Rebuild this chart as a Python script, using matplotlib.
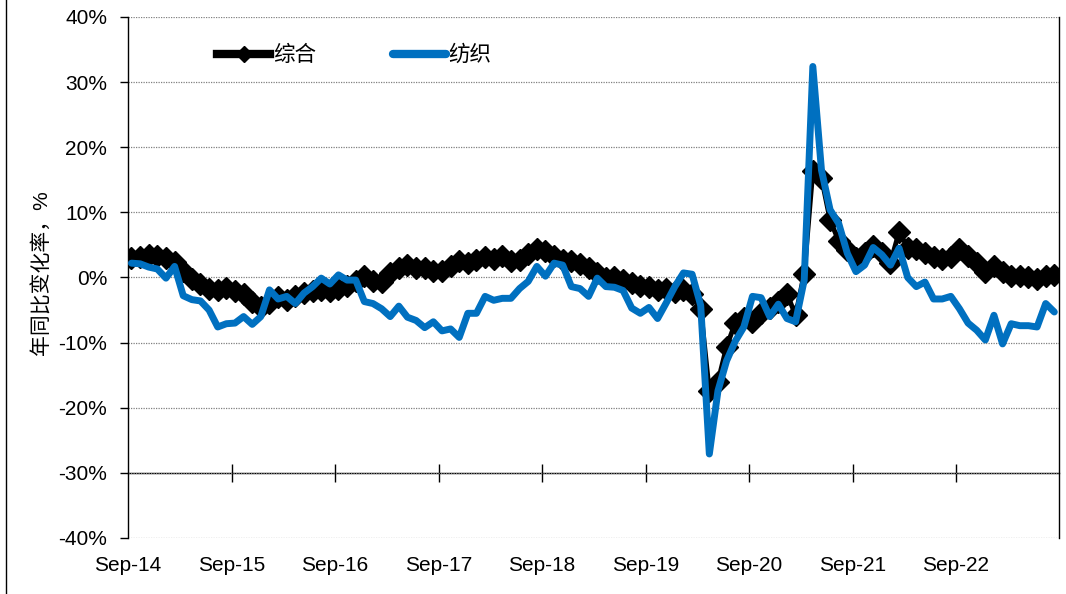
import numpy as np
import matplotlib.pyplot as plt
from matplotlib.lines import Line2D

plt.rcParams['font.family'] = ['Liberation Sans', 'Noto Sans CJK SC', 'DejaVu Sans']

# monthly YoY change, Sep-14 .. Aug-23 (%)
zonghe = [3.0, 3.2, 3.4, 3.3, 3.0, 2.4, 1.0, -0.2, -1.0, -1.7, -1.9, -1.6,
          -2.0, -2.6, -3.8, -4.6, -3.9, -3.0, -3.5, -2.8, -2.4, -2.0, -1.9, -2.0,
          -1.8, -1.3, -0.6, 0.2, -0.5, -0.7, 0.7, 1.4, 1.9, 1.5, 1.4, 1.0,
          1.0, 1.7, 2.5, 2.3, 2.7, 3.2, 2.9, 3.3, 2.5, 2.7, 3.6, 4.4,
          4.1, 3.3, 2.7, 2.5, 2.0, 1.4, 0.7, -0.1, 0.0, -0.4, -0.9, -1.3,
          -1.4, -1.9, -1.8, -2.3, -1.9, -2.6, -4.8, -17.5, -16.0, -10.6, -7.0, -6.2,
          -6.8, -5.5, -4.7, -3.8, -2.5, -5.8, 0.6, 16.3, 15.3, 8.8, 5.6, 4.2,
          3.0, 3.8, 4.8, 3.7, 2.3, 7.0, 4.6, 4.4, 3.7, 3.2, 2.9, 3.2,
          4.4, 3.3, 2.3, 0.8, 1.7, 0.9, 0.3, 0.3, 0.0, -0.2, 0.3, 0.4]
fangzhi = [2.2, 2.1, 1.6, 1.3, -0.1, 1.7, -2.8, -3.4, -3.6, -5.0, -7.6, -7.1,
           -7.0, -6.0, -7.2, -6.0, -1.9, -3.3, -2.9, -4.0, -2.4, -1.4, -0.1, -1.0,
           0.4, -0.4, -0.4, -3.7, -4.0, -4.8, -6.0, -4.4, -6.1, -6.6, -7.7, -6.8,
           -8.2, -7.9, -9.2, -5.5, -5.5, -2.9, -3.5, -3.2, -3.2, -1.7, -0.6, 1.7,
           0.2, 2.2, 1.9, -1.4, -1.7, -2.9, -0.1, -1.4, -1.5, -2.0, -4.7, -5.5,
           -4.6, -6.3, -3.9, -1.4, 0.7, 0.5, -4.3, -27.1, -17.4, -12.8, -9.8, -7.6,
           -2.9, -3.1, -6.0, -4.1, -6.3, -6.8, -0.4, 32.4, 16.5, 10.4, 8.3, 3.7,
           0.9, 1.9, 4.6, 3.5, 1.9, 4.5, 0.0, -1.4, -0.7, -3.3, -3.3, -2.9,
           -4.8, -7.0, -8.1, -9.6, -5.8, -10.2, -7.1, -7.4, -7.4, -7.6, -4.0, -5.3]
tick_labels = ['Sep-14', 'Sep-15', 'Sep-16', 'Sep-17', 'Sep-18',
               'Sep-19', 'Sep-20', 'Sep-21', 'Sep-22']
y_ticks = [-40, -30, -20, -10, 0, 10, 20, 30, 40]

# points sit mid-month on the date axis
x = np.arange(len(zonghe)) + 0.4

fig = plt.figure(figsize=(10.66, 5.94), dpi=100)
ax = fig.add_axes([0.1201, 0.0943, 0.8738, 0.8771])

ax.plot(x, zonghe, color='black', lw=3.5, marker='D', markersize=11,
        solid_joinstyle='round', label='综合', zorder=3)
ax.plot(x, fangzhi, color='#0070C0', lw=5, solid_joinstyle='round',
        solid_capstyle='round', label='纺织', zorder=4)

ax.set_xlim(0, 108)
ax.set_ylim(-40, 40)
ax.set_yticks(y_ticks)
ax.set_yticklabels([f'{v}%' for v in y_ticks])
ax.yaxis.grid(True, color='#808080', lw=0.9, linestyle=(0, (1, 1)))

month_ticks = np.arange(len(tick_labels)) * 12
ax.set_xticks(month_ticks)
ax.set_xticklabels(tick_labels)
ax.tick_params(axis='x', length=0, pad=13, labelsize=15)
ax.tick_params(axis='y', direction='out', length=6, width=1, pad=9, labelsize=15)

ax.spines['top'].set_visible(False)
ax.spines['bottom'].set_visible(False)
ax.spines['left'].set_linewidth(1)
ax.spines['right'].set_linewidth(1)

# horizontal category axis crosses at -30%
sec = ax.secondary_xaxis(0.125)
sec.set_xticks(month_ticks[1:])
sec.tick_params(direction='inout', length=13, width=1, labelbottom=False)
sec.spines['bottom'].set_linewidth(1)

ax.set_ylabel('年同比变化率，%', fontsize=15)
ax.yaxis.set_label_coords(-0.082, 0.51)

leg = ax.legend(loc='center left', bbox_to_anchor=(0.096, 0.926), ncol=2,
                frameon=False, fontsize=15.5, handlelength=2.45, handletextpad=0.12,
                columnspacing=3.6, numpoints=1, borderaxespad=0, borderpad=0)
for h in leg.legend_handles:
    h.set_linewidth(6)
    h.set_markersize(8)

fig.add_artist(Line2D([6 / 1066, 6 / 1066], [0, 1], transform=fig.transFigure,
                      color='black', lw=1))

fig.savefig('out.png', dpi=100)
